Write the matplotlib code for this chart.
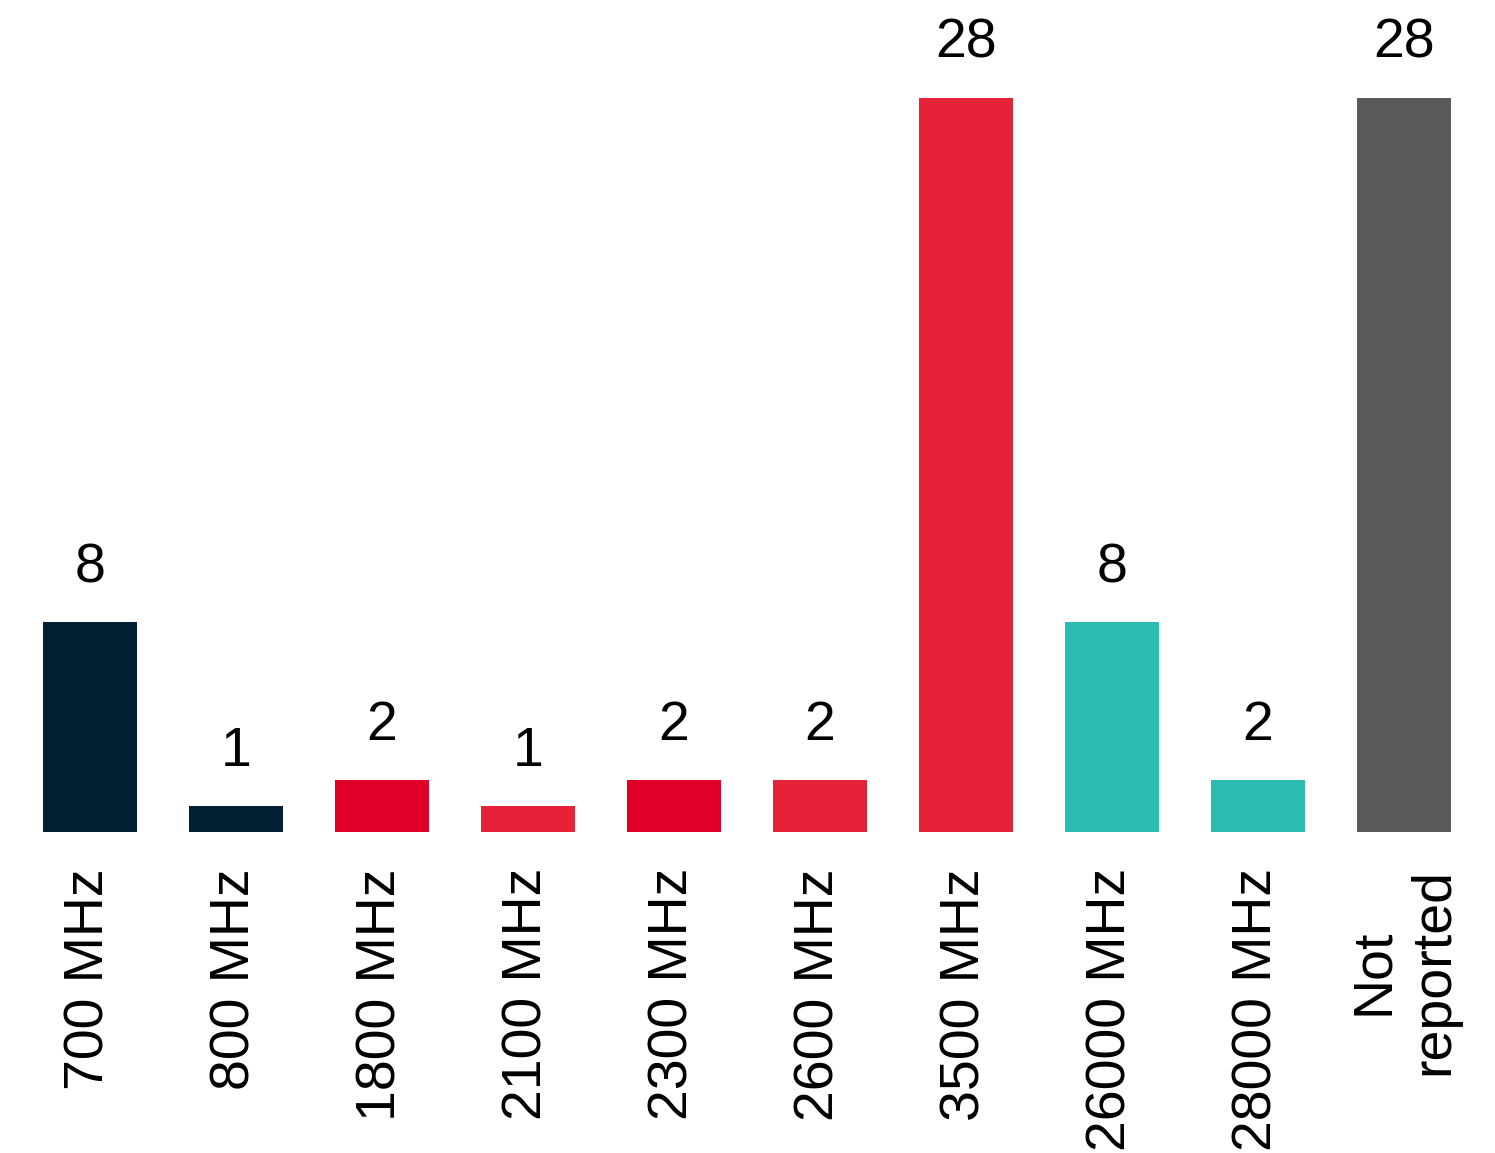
import matplotlib
matplotlib.use("Agg")
import matplotlib.pyplot as plt

categories = ["700 MHz", "800 MHz", "1800 MHz", "2100 MHz", "2300 MHz",
              "2600 MHz", "3500 MHz", "26000 MHz", "28000 MHz", "Not\nreported"]
values = [8, 1, 2, 1, 2, 2, 28, 8, 2, 28]
colors = ["#011e33", "#011e33", "#df002a", "#e52237", "#df002a",
          "#e52237", "#e52237", "#2bbcb3", "#2bbcb3", "#5a5a5a"]

plt.rcParams['font.family'] = ['Liberation Sans', 'DejaVu Sans']

W, H = 1495, 1153
fig = plt.figure(figsize=(W / 100, H / 100), dpi=100)
left_px, right_px = 17, 1477
base_px, top_px = 832, 98
ax = fig.add_axes([left_px / W, (H - base_px) / H,
                   (right_px - left_px) / W, (base_px - top_px) / H])

x = list(range(len(categories)))
bars = ax.bar(x, values, width=0.64, color=colors)
ax.set_xlim(-0.5, len(categories) - 0.5)
ax.set_ylim(0, 28)

for xi, v in zip(x, values):
    ax.annotate(str(v), (xi, v), xytext=(0, 28), textcoords="offset pixels",
                ha="center", va="bottom", fontsize=40, clip_on=False)

ax.set_xticks(x)
ax.set_xticklabels(categories, rotation=90, fontsize=40, multialignment="center")
ax.tick_params(axis="x", length=0, pad=26)
ax.set_yticks([])
for s in ax.spines.values():
    s.set_visible(False)

fig.savefig("out.png", dpi=100, facecolor="white")
